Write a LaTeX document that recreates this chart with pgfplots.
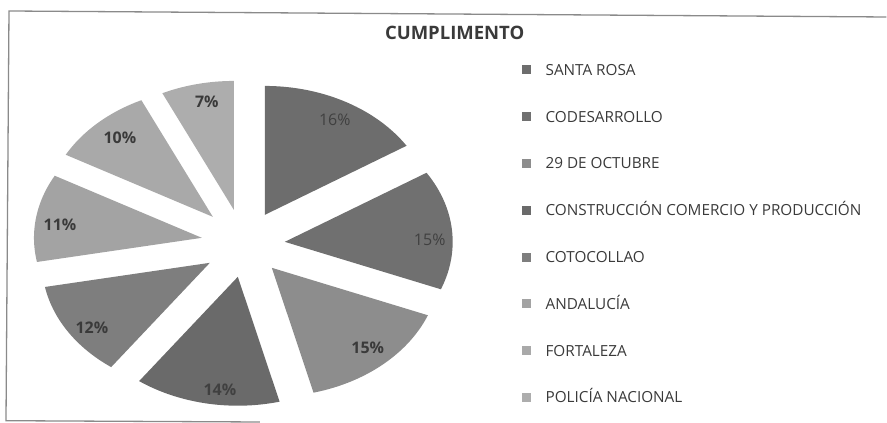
\documentclass[border=0pt]{standalone}
\usepackage{pgfplots}
\pgfplotsset{compat=1.18}
\usepackage{fontspec}
\setmainfont{Open Sans}
\definecolor{cSR}{HTML}{6D6D6D}
\definecolor{cCO}{HTML}{707070}
\definecolor{cOC}{HTML}{8D8D8D}
\definecolor{cCC}{HTML}{6A6A6A}
\definecolor{cCT}{HTML}{7E7E7E}
\definecolor{cAN}{HTML}{A3A3A3}
\definecolor{cFO}{HTML}{A9A9A9}
\definecolor{cPO}{HTML}{ADADAD}
\definecolor{txt}{HTML}{3A3A3A}
\definecolor{dtxt}{HTML}{404040}
\definecolor{frame}{HTML}{8A8A8A}
% #1 start (cumulative %), #2 share (%), #3,#4 apex of the exploded slice, #5 colour
\newcommand{\slice}[5]{%
  \addplot[fill=#5, draw=none, domain={3.6*#1}:{3.6*(#1+#2)}, samples=60, variable=\t]
    ({#3+168*sin(\t)},{#4-129*cos(\t)}) -- (axis cs:#3,#4) -- cycle;
}
\begin{document}
\begin{tikzpicture}
\begin{axis}[
  width=887pt, height=423pt, scale only axis,
  xmin=0, xmax=887, ymin=0, ymax=423, y dir=reverse,
  hide axis, clip=false,
  legend image code/.code={\fill[#1] (0pt,-4.5pt) rectangle (9pt,4.5pt);},
  legend style={draw=none, fill=none, at={(axis cs:522,64.5)}, anchor=north west,
    inner sep=0pt, outer sep=0pt, row sep=35.8pt,
    nodes={inner sep=0pt, text height=11pt, text depth=0pt,
      font=\fontsize{15.3}{18}\selectfont, text=txt},
    /tikz/every odd column/.append style={column sep=15pt},
    cells={anchor=west}},
]
\slice{0}{16}{265}{215}{cSR}
\slice{16}{15}{285}{242}{cCO}
\slice{31}{15}{272}{268}{cOC}
\slice{46}{14}{238}{277}{cCC}
\slice{60}{12}{210}{263}{cCT}
\slice{72}{11}{202}{238}{cAN}
\slice{83}{10}{213}{217}{cFO}
\slice{93}{7}{234}{210}{cPO}
\legend{SANTA ROSA, CODESARROLLO, 29 DE OCTUBRE, CONSTRUCCIÓN COMERCIO Y PRODUCCIÓN, COTOCOLLAO, ANDALUCÍA, FORTALEZA, POLICÍA NACIONAL}
% percentage labels
\node[text=dtxt, font=\fontsize{16}{19}\selectfont] at (axis cs:335,120) {16\%};
\node[text=dtxt, font=\fontsize{16}{19}\selectfont] at (axis cs:430,240) {15\%};
\node[text=txt, font=\bfseries\fontsize{16}{19}\selectfont] at (axis cs:368,348) {15\%};
\node[text=dtxt, font=\bfseries\fontsize{16}{19}\selectfont] at (axis cs:220,390) {14\%};
\node[text=txt, font=\bfseries\fontsize{16}{19}\selectfont] at (axis cs:92,328) {12\%};
\node[text=txt, font=\bfseries\fontsize{16}{19}\selectfont] at (axis cs:60,225) {11\%};
\node[text=txt, font=\bfseries\fontsize{16}{19}\selectfont] at (axis cs:120,138) {10\%};
\node[text=txt, font=\bfseries\fontsize{16}{19}\selectfont] at (axis cs:207,102) {7\%};
% title
\node[text=txt, font=\bfseries\fontsize{18.5}{22}\selectfont] at (axis cs:455,33) {CUMPLIMENTO};
% frame (scanned, slightly rotated)
\draw[frame, line width=1.3pt] (axis cs:887,17) -- (axis cs:9,11) -- (axis cs:6,421) -- (axis cs:260,422.3);
\end{axis}
\useasboundingbox (current axis.south west) rectangle (current axis.north east);
\end{tikzpicture}
\end{document}
